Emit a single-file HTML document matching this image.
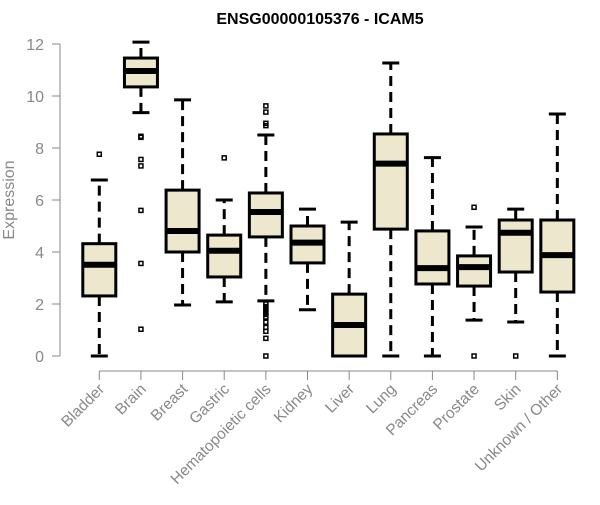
<!DOCTYPE html>
<html><head><meta charset="utf-8"><style>
body{margin:0;background:#fff;font-family:"Liberation Sans",sans-serif}
</style></head><body>
<svg id="chart" width="600" height="500" xmlns="http://www.w3.org/2000/svg">
<text x="320" y="24" text-anchor="middle" font-size="16" font-weight="bold" font-family="Liberation Sans, sans-serif">ENSG00000105376 - ICAM5</text>
<text transform="translate(14,200) rotate(-90)" text-anchor="middle" font-size="16" fill="#888" font-family="Liberation Sans, sans-serif">Expression</text>
<g id="plot"></g>
</svg>
<script>
const categories=["Bladder","Brain","Breast","Gastric","Hematopoietic cells","Kidney","Liver","Lung","Pancreas","Prostate","Skin","Unknown / Other"];
const whiskerLow=[0,9.36,1.96,2.08,2.12,1.78,0,0,0,1.38,1.31,0];
const q1=[2.31,10.35,4.0,3.04,4.58,3.58,0,4.88,2.77,2.69,3.23,2.46];
const median=[3.51,10.96,4.81,4.05,5.54,4.36,1.19,7.4,3.38,3.42,4.74,3.88];
const q3=[4.32,11.46,6.38,4.65,6.27,5.0,2.38,8.54,4.81,3.85,5.23,5.23];
const whiskerHigh=[6.77,12.07,9.85,6.0,8.5,5.65,5.15,11.27,7.63,4.96,5.65,9.31];
const outliers=[[7.76],[8.41,8.45,7.56,7.31,5.6,3.56,1.03],[],[7.62],[9.62,9.38,8.95,8.86,2.0,1.9,1.8,1.7,1.6,1.5,1.3,1.1,0.95,0.68,0],[],[],[],[],[5.72,0],[0],[]];
const yTicks=[0,2,4,6,8,10,12];

const NS="http://www.w3.org/2000/svg";
const g=document.getElementById('plot');
const y=v=>356-26*v;
const x=i=>99.3+41.64*i;
function el(tag,attrs,parent){const e=document.createElementNS(NS,tag);for(const k in attrs)e.setAttribute(k,attrs[k]);(parent||g).appendChild(e);return e;}

const ya=el('line',{x1:60,x2:60,y1:y(0),y2:y(12),stroke:'#888'});


yTicks.forEach(t=>{
  const tk=el('line',{x1:52,x2:60,y1:y(t),y2:y(t),stroke:'#888'});
  
  
  const tl=el('text',{x:44,y:y(t)+6,'text-anchor':'end','font-size':16,fill:'#888','font-family':'Liberation Sans, sans-serif'});
  tl.textContent=t;
  
  
});
const xa=el('line',{x1:x(0),x2:x(categories.length-1),y1:371,y2:371,stroke:'#888'});


categories.forEach((c,i)=>{
  const cx=x(i);
  const tk=el('line',{x1:cx,x2:cx,y1:371,y2:380,stroke:'#888'});
  
  
  const tl=el('text',{x:cx+6,y:390,'text-anchor':'end','font-size':15.5,fill:'#888','font-family':'Liberation Sans, sans-serif',transform:`rotate(-45 ${cx+6} 390)`});
  tl.textContent=c;
  
  

  const bg=el('g',{});
  
  
  const w=16.5;
  el('line',{x1:cx,x2:cx,y1:y(q3[i]),y2:y(whiskerHigh[i]),stroke:'#000','stroke-width':3,'stroke-dasharray':'10,6'},bg);
  el('line',{x1:cx,x2:cx,y1:y(q1[i]),y2:y(whiskerLow[i]),stroke:'#000','stroke-width':3,'stroke-dasharray':'10,6'},bg);
  el('line',{x1:cx-8.5,x2:cx+8.5,y1:y(whiskerHigh[i]),y2:y(whiskerHigh[i]),stroke:'#000','stroke-width':3},bg);
  el('line',{x1:cx-8.5,x2:cx+8.5,y1:y(whiskerLow[i]),y2:y(whiskerLow[i]),stroke:'#000','stroke-width':3},bg);
  el('rect',{x:cx-w,y:y(q3[i]),width:2*w,height:y(q1[i])-y(q3[i]),fill:'#ede7cd',stroke:'#000','stroke-width':3},bg);
  el('line',{x1:cx-w,x2:cx+w,y1:y(median[i]),y2:y(median[i]),stroke:'#000','stroke-width':6},bg);
  outliers[i].forEach(v=>{
    const o=el('rect',{x:cx-2,y:y(v)-2,width:4,height:4,fill:'none',stroke:'#000','stroke-width':1.5},bg);
    
    
  });
});
</script>
</body></html>
